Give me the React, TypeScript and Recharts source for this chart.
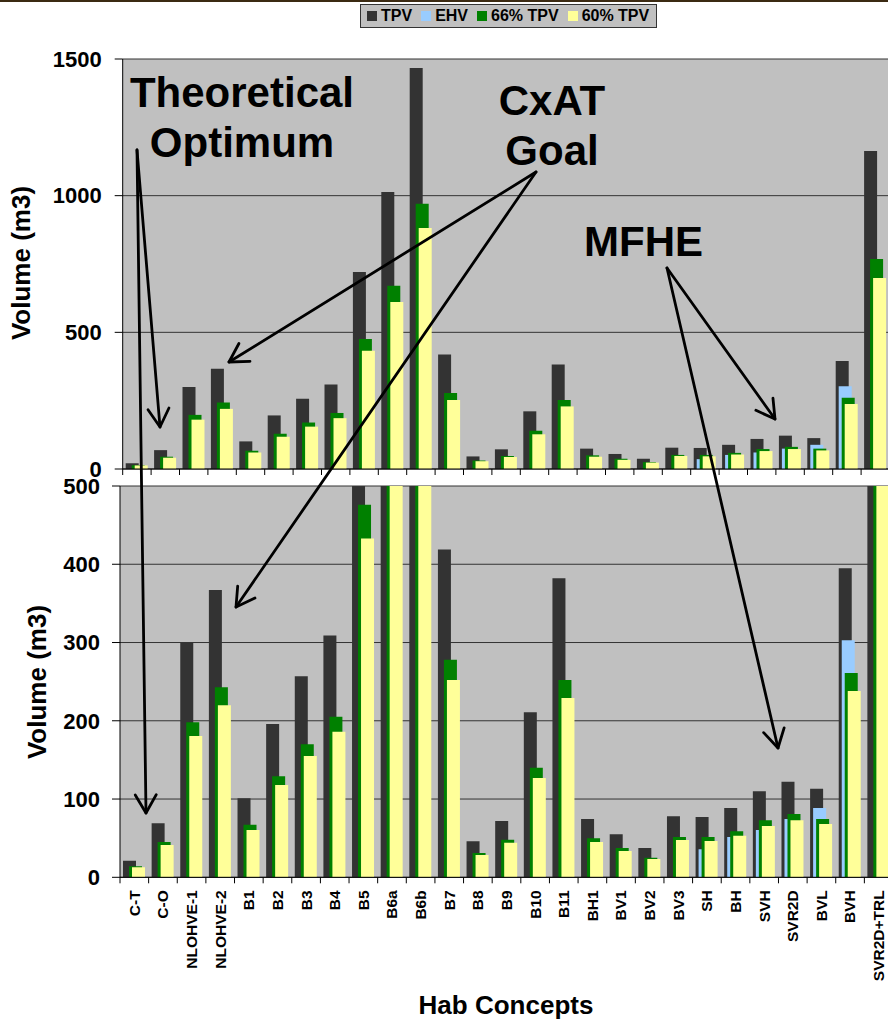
import React from 'react';
import { BarChart, Bar, XAxis, YAxis, CartesianGrid } from 'recharts';

const categories = ['C-T','C-O','NLOHVE-1','NLOHVE-2','B1','B2','B3','B4','B5','B6a','B6b','B7','B8','B9','B10','B11','BH1','BV1','BV2','BV3','SH','BH','SVH','SVR2D','BVL','BVH','SVR2D+TRL'];
const tpv = [21, 69, 300, 367, 101, 196, 257, 309, 721, 1013, 1467, 419, 46, 72, 211, 382, 74.5, 55, 37.5, 78, 77, 88.5, 110, 122, 113, 395, 1163];
const ehv = [null, null, null, null, null, null, null, null, null, null, null, null, null, null, null, null, null, null, null, null, 36, 51.5, 60.5, 74.5, 88.5, 303, null];
const tpv66 = [14, 45, 198, 243, 67, 129, 170, 205, 476, 670, 970, 278, 31, 48, 140, 252, 50, 37.5, 25, 51.5, 51.5, 59, 73, 81, 74.5, 261, 768];
const tpv60 = [13, 41.3, 180.5, 220, 60.5, 118, 155, 186, 433, 611, 882, 252, 28.5, 44, 127, 229, 45, 33.5, 23.4, 47.7, 46.4, 53, 65.6, 73, 68, 238, 699];

const seriesNames = ['TPV', 'EHV', '66% TPV', '60% TPV'];
const seriesKeys = ['tpv', 'ehv', 'tpv66', 'tpv60'];
const seriesColors = ['#333333', '#99ccff', '#008000', '#ffff99'];

const topTicks = [0, 500, 1000, 1500];
const bottomTicks = [0, 100, 200, 300, 400, 500];

const data = categories.map((c, i) => ({
  name: c,
  tpv: tpv[i],
  ehv: ehv[i],
  tpv66: tpv66[i],
  tpv60: tpv60[i],
}));

const FONT = '"Liberation Sans", Arial, Helvetica, sans-serif';

const makeXTick = (band: number, showLabel: boolean) => (props: any) => {
  const { x, y, payload } = props;
  const bx = x - band / 2;
  return (
    <g>
      <line x1={bx} x2={bx} y1={y} y2={y + 6} stroke="#000" strokeWidth={1} />
      {showLabel && (
        <text
          x={x}
          y={y + 13}
          transform={`rotate(-90, ${x}, ${y + 13})`}
          textAnchor="end"
          dy="0.35em"
          fontSize={15.5}
          fontWeight="bold"
          fill="#000"
        >
          {payload.value}
        </text>
      )}
    </g>
  );
};

const Arrow = ({ x1, y1, x2, y2 }: { x1: number; y1: number; x2: number; y2: number }) => {
  const ang = Math.atan2(y1 - y2, x1 - x2);
  const L = 21;
  const a1 = ang + Math.PI / 6;
  const a2 = ang - Math.PI / 6;
  return (
    <g stroke="#000" strokeWidth={2.8} fill="none" strokeLinecap="round" strokeLinejoin="round">
      <line x1={x1} y1={y1} x2={x2} y2={y2} />
      <polyline
        points={`${x2 + L * Math.cos(a1)},${y2 + L * Math.sin(a1)} ${x2},${y2} ${x2 + L * Math.cos(a2)},${y2 + L * Math.sin(a2)}`}
      />
    </g>
  );
};

const renderBars = () =>
  seriesKeys.map((k, i) => (
    <Bar key={k} dataKey={k} name={seriesNames[i]} fill={seriesColors[i]} isAnimationActive={false} />
  ));

export default function App() {
  const topBand = (889.5 - 122.7) / 27;
  const botBand = (893 - 120) / 27;
  return (
    <div
      style={{
        position: 'absolute',
        left: 0,
        top: 0,
        width: 888,
        height: 1021,
        overflow: 'hidden',
        background: '#fff',
        fontFamily: FONT,
      }}
    >
      <div style={{ position: 'absolute', left: 0, top: 0, width: 888, height: 2, background: '#3b2a12' }} />

      <div style={{ position: 'absolute', left: 0, top: 0 }}>
        <BarChart
          width={900}
          height={490}
          data={data}
          margin={{ top: 59, right: 10.5, bottom: 11, left: 22.7 }}
          barSize={13}
          barGap={-10}
          barCategoryGap={0}
        >
          <CartesianGrid vertical={false} stroke="#333" fill="#c0c0c0" fillOpacity={1} />
          <XAxis
            dataKey="name"
            height={10}
            interval={0}
            tickLine={false}
            tickSize={0}
            tickMargin={0}
            axisLine={{ stroke: '#000' }}
            tick={makeXTick(topBand, false)}
          />
          <YAxis
            width={100}
            domain={[0, 1500]}
            ticks={topTicks}
            interval={0}
            tickSize={8}
            tickMargin={13}
            tickLine={{ stroke: '#000' }}
            axisLine={{ stroke: '#000' }}
            tick={{ fill: '#000', fontSize: 22, fontWeight: 700 }}
          />
          {renderBars()}
        </BarChart>
      </div>

      <div style={{ position: 'absolute', left: 0, top: 470 }}>
        <BarChart
          width={900}
          height={551}
          data={data}
          margin={{ top: 16, right: 7, bottom: 43.7, left: 20 }}
          barSize={13}
          barGap={-10}
          barCategoryGap={0}
        >
          <CartesianGrid vertical={false} stroke="#333" fill="#c0c0c0" fillOpacity={1} />
          <XAxis
            dataKey="name"
            height={100}
            interval={0}
            tickLine={false}
            tickSize={0}
            tickMargin={0}
            axisLine={{ stroke: '#000' }}
            tick={makeXTick(botBand, true)}
          />
          <YAxis
            width={100}
            domain={[0, 500]}
            allowDataOverflow
            ticks={bottomTicks}
            interval={0}
            tickSize={8}
            tickMargin={12}
            tickLine={{ stroke: '#000' }}
            axisLine={{ stroke: '#000' }}
            tick={{ fill: '#000', fontSize: 22, fontWeight: 700 }}
          />
          {renderBars()}
        </BarChart>
      </div>

      <div
        style={{
          position: 'absolute',
          left: 360,
          top: 4,
          width: 297,
          height: 24,
          boxSizing: 'border-box',
          background: '#c0c0c0',
          border: '1px solid #333',
          display: 'flex',
          alignItems: 'center',
          paddingLeft: 6,
          whiteSpace: 'nowrap',
        }}
      >
        {seriesNames.map((n, i) => (
          <div key={n} style={{ display: 'flex', alignItems: 'center', marginRight: 9 }}>
            <span style={{ display: 'inline-block', width: 10, height: 10, background: seriesColors[i], marginRight: 4 }} />
            <span style={{ fontSize: 16, fontWeight: 700, color: '#000', lineHeight: '16px' }}>{n}</span>
          </div>
        ))}
      </div>

      <svg
        width={888}
        height={1021}
        style={{ position: 'absolute', left: 0, top: 0, pointerEvents: 'none', fontFamily: FONT }}
      >
        <g fontWeight="bold" fill="#000" textAnchor="middle">
          <text x={242} y={107} fontSize={42}>Theoretical</text>
          <text x={242} y={157} fontSize={42}>Optimum</text>
          <text x={552} y={115} fontSize={42}>CxAT</text>
          <text x={552} y={165} fontSize={42}>Goal</text>
          <text x={643.5} y={256} fontSize={42}>MFHE</text>
          <text x={30} y={263} fontSize={26} transform="rotate(-90, 30, 263)">Volume (m3)</text>
          <text x={46} y={682} fontSize={26} transform="rotate(-90, 46, 682)">Volume (m3)</text>
          <text x={506} y={1014} fontSize={26}>Hab Concepts</text>
        </g>
        <Arrow x1={137} y1={150} x2={160} y2={427} />
        <Arrow x1={137} y1={150} x2={146} y2={813} />
        <Arrow x1={536} y1={172} x2={229} y2={362} />
        <Arrow x1={536} y1={172} x2={236} y2={607} />
        <Arrow x1={667} y1={268} x2={775} y2={419} />
        <Arrow x1={667} y1={268} x2={778} y2={748} />
      </svg>
    </div>
  );
}
